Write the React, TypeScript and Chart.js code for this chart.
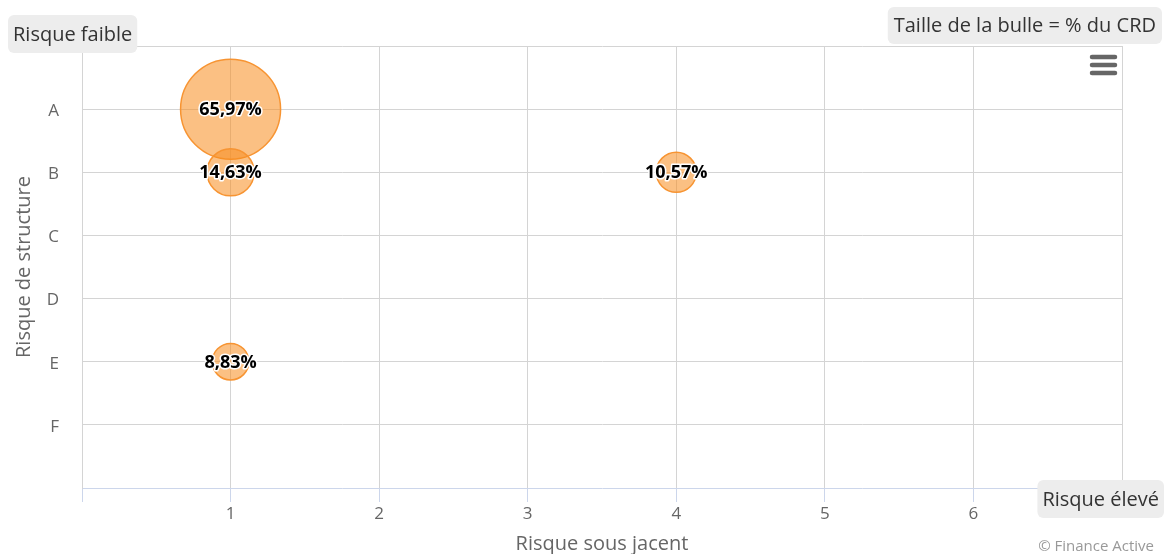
import { useEffect, useRef } from 'react';
import { Chart, registerables } from 'chart.js';

Chart.register(...registerables);

// ---- data ----
const yCategories = ['A', 'B', 'C', 'D', 'E', 'F'];
const xTickLabels = ['1', '2', '3', '4', '5', '6'];
const xValues = [1, 1, 4, 1];
const yValues = ['A', 'B', 'B', 'E'];
const zValues = [65.97, 14.63, 10.57, 8.83];

const FONT = '"Open Sans", sans-serif';
const MAX_R = 50;
const GRID = '#d4d4d4';
const AXIS = '#ccd6eb';

function drawBox(ctx: CanvasRenderingContext2D, text: string, anchorX: number, align: 'left' | 'right', top: number, h: number, pad: number) {
  ctx.save();
  ctx.font = `20px ${FONT}`;
  const w = ctx.measureText(text).width + pad * 2;
  const left = align === 'left' ? anchorX : anchorX - w;
  ctx.fillStyle = '#ededed';
  ctx.beginPath();
  (ctx as any).roundRect(left, top, w, h, 6);
  ctx.fill();
  ctx.fillStyle = '#333333';
  ctx.textAlign = 'center';
  ctx.textBaseline = 'middle';
  ctx.fillText(text, left + w / 2, top + h / 2 + 1);
  ctx.restore();
}

export default function App() {
  const ref = useRef<HTMLCanvasElement>(null);

  useEffect(() => {
    document.body.style.margin = '0';
    const canvas = ref.current!;
    const zMax = Math.max(...zValues);
    const points = xValues.map((x, i) => ({
      x,
      y: yCategories.indexOf(yValues[i]) + 1,
      r: MAX_R * Math.sqrt(zValues[i] / zMax),
    }));

    const overlay = {
      id: 'overlay',
      afterDatasetsDraw(chart: any) {
        const ctx: CanvasRenderingContext2D = chart.ctx;
        const meta = chart.getDatasetMeta(0);
        ctx.save();
        ctx.font = `bold 18px ${FONT}`;
        ctx.textAlign = 'center';
        ctx.textBaseline = 'middle';
        ctx.lineJoin = 'round';
        meta.data.forEach((el: any, i: number) => {
          const label = zValues[i].toFixed(2).replace('.', ',') + '%';
          ctx.strokeStyle = '#ffffff';
          ctx.lineWidth = 3;
          ctx.strokeText(label, el.x, el.y + 1);
          ctx.fillStyle = '#000000';
          ctx.fillText(label, el.x, el.y + 1);
        });
        ctx.restore();
      },
      afterDraw(chart: any) {
        const ctx: CanvasRenderingContext2D = chart.ctx;
        const area = chart.chartArea;
        ctx.save();
        // axis titles
        ctx.fillStyle = '#666666';
        ctx.font = `20px ${FONT}`;
        ctx.textAlign = 'center';
        ctx.textBaseline = 'middle';
        ctx.fillText('Risque sous jacent', (area.left + area.right) / 2, 544);
        ctx.save();
        ctx.translate(24, (area.top + area.bottom) / 2);
        ctx.rotate(-Math.PI / 2);
        ctx.fillText('Risque de structure', 0, 0);
        ctx.restore();
        // credits
        ctx.fillStyle = '#999999';
        ctx.font = `15px ${FONT}`;
        ctx.textAlign = 'right';
        ctx.fillText('\u00a9 Finance Active', 1154, 547);
        // hamburger
        ctx.strokeStyle = '#666666';
        ctx.lineWidth = 4.5;
        ctx.lineCap = 'round';
        [57, 65, 73].forEach((y) => {
          ctx.beginPath();
          ctx.moveTo(1092, y);
          ctx.lineTo(1115, y);
          ctx.stroke();
        });
        ctx.restore();
        // label boxes
        drawBox(ctx, 'Risque faible', 8, 'left', 15, 38, 5);
        drawBox(ctx, 'Taille de la bulle = % du CRD', 1162, 'right', 7, 37, 6);
        drawBox(ctx, 'Risque \u00e9lev\u00e9', 1164, 'right', 480, 38, 5);
      },
    };

    const chart = new Chart(canvas, {
      type: 'bubble',
      data: {
        datasets: [
          {
            data: points,
            backgroundColor: 'rgba(248,140,30,0.55)',
            borderColor: 'rgb(247,148,50)',
            borderWidth: 1.5,
            hoverBorderWidth: 1.5,
            clip: false as any,
          },
        ],
      },
      options: {
        responsive: false,
        animation: false,
        devicePixelRatio: 1,
        layout: { autoPadding: false, padding: { top: 46, right: 45, left: 0, bottom: 0 } },
        plugins: { legend: { display: false }, tooltip: { enabled: false } },
        events: [],
        scales: {
          x: {
            type: 'linear',
            min: 0,
            max: 7,
            afterFit(s: any) {
              s.height = 66;
            },
            ticks: {
              stepSize: 1,
              autoSkip: false,
              maxRotation: 0,
              padding: 2,
              color: '#666666',
              font: { family: FONT, size: 17 },
              callback: (v: any) => (v >= 1 && v <= 6 ? xTickLabels[v - 1] : ''),
            },
            grid: { color: GRID, tickColor: AXIS, tickLength: 14, drawTicks: true },
            border: { color: AXIS, width: 1 },
          },
          y: {
            type: 'linear',
            min: 0,
            max: 7,
            reverse: true,
            afterFit(s: any) {
              s.width = 82;
            },
            ticks: {
              stepSize: 1,
              autoSkip: false,
              padding: 23,
              labelOffset: 2,
              color: '#666666',
              font: { family: FONT, size: 17 },
              callback: (v: any) => yCategories[v - 1] ?? '',
            },
            grid: {
              drawTicks: false,
              color: (c: any) => (c.tick && c.tick.value === 7 ? 'rgba(0,0,0,0)' : GRID),
            },
            border: { color: GRID, width: 1 },
          },
        },
      } as any,
      plugins: [overlay],
    });
    return () => chart.destroy();
  }, []);

  return (
    <div style={{ width: 1167, height: 554 }}>
      <canvas ref={ref} width={1167} height={554} />
    </div>
  );
}
